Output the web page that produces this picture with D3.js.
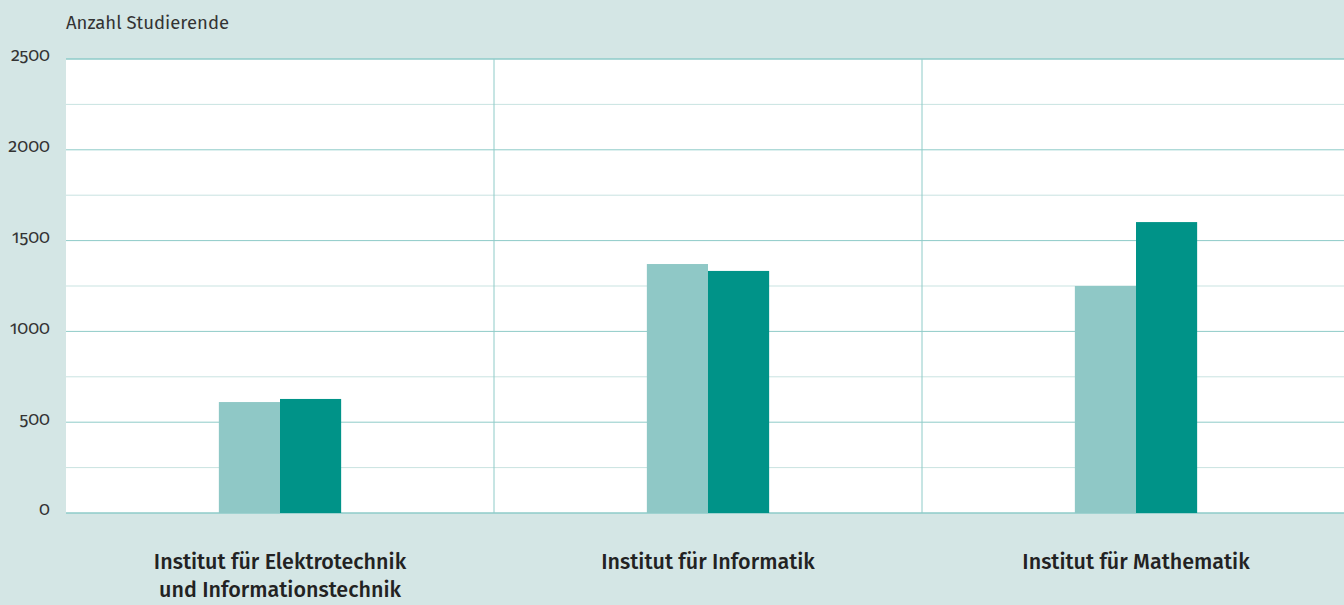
<!DOCTYPE html>
<html>
<head>
<meta charset="utf-8">
<script src="https://cdn.jsdelivr.net/npm/d3@7"></script>
<style>
  body { margin: 0; background: #d4e6e5; }
  svg { display: block; font-family: "Fira Sans", "Open Sans", "Noto Sans", sans-serif; }
  .tick-label { font-variant-numeric: oldstyle-nums; }
</style>
</head>
<body>
<script>
const width = 1344;
const height = 605;
const margin = {top: 59, right: -6, bottom: 92, left: 66};

// data
const institutes = [
  ["Institut für Elektrotechnik", "und Informationstechnik"],
  ["Institut für Informatik"],
  ["Institut für Mathematik"]
];
const seriesA = [611, 1371, 1250];   // light bars
const seriesB = [628, 1333, 1602];   // dark bars
const yTicks = [0, 500, 1000, 1500, 2000, 2500];
const yMinor = [250, 750, 1250, 1750, 2250];

const svg = d3.select("body").append("svg")
  .attr("width", width)
  .attr("height", height);

const x = d3.scaleBand()
  .domain(d3.range(institutes.length))
  .range([margin.left, width - margin.right])
  .paddingInner(0)
  .paddingOuter(0);

const xSub = d3.scaleBand()
  .domain([0, 1])
  .range([0, x.bandwidth()])
  .paddingInner(0)
  .paddingOuter(2.5);

const y = d3.scaleLinear()
  .domain([0, 2500])
  .range([height - margin.bottom, margin.top]);

// plot background
svg.append("rect")
  .attr("x", margin.left)
  .attr("y", y(2500))
  .attr("width", width - margin.left)
  .attr("height", y(0) - y(2500))
  .attr("fill", "#fff");

// minor grid
svg.append("g").selectAll("line")
  .data(yMinor)
  .join("line")
  .attr("x1", margin.left).attr("x2", width)
  .attr("y1", d => y(d)).attr("y2", d => y(d))
  .attr("stroke", "#c9e3e1")
  .attr("stroke-width", 1);

// major grid
svg.append("g").selectAll("line")
  .data(yTicks)
  .join("line")
  .attr("x1", margin.left).attr("x2", width)
  .attr("y1", d => y(d)).attr("y2", d => y(d))
  .attr("stroke", "#8ecbc8")
  .attr("stroke-width", d => d === 0 || d === 2500 ? 1.5 : 1);

// group dividers
svg.append("g").selectAll("line")
  .data(d3.range(1, institutes.length))
  .join("line")
  .attr("x1", d => x(d)).attr("x2", d => x(d))
  .attr("y1", y(2500)).attr("y2", y(0))
  .attr("stroke", "#8ecbc8")
  .attr("stroke-width", 1);

// bars
const groups = svg.append("g").selectAll("g")
  .data(institutes.map((d, i) => ({i, vals: [seriesA[i], seriesB[i]]})))
  .join("g")
  .attr("transform", d => `translate(${x(d.i)},0)`);

const colors = ["#8fc8c6", "#009388"];
groups.selectAll("rect")
  .data(d => d.vals)
  .join("rect")
  .attr("x", (d, j) => xSub(j))
  .attr("width", xSub.bandwidth())
  .attr("y", d => y(d))
  .attr("height", d => y(0) - y(d))
  .attr("fill", (d, j) => colors[j]);

// y tick labels
svg.append("g").selectAll("text")
  .data(yTicks)
  .join("text")
  .attr("class", "tick-label")
  .attr("x", 50)
  .attr("y", d => y(d) - 4)
  .attr("dy", "0.35em")
  .attr("text-anchor", "end")
  .attr("font-size", 18)
  .attr("fill", "#333")
  .text(d => d);

// axis title
svg.append("text")
  .attr("x", margin.left)
  .attr("y", 29)
  .attr("font-size", 18.5)
  .attr("fill", "#333")
  .text("Anzahl Studierende");

// category labels
const cat = svg.append("g").selectAll("text")
  .data(institutes)
  .join("text")
  .attr("x", (d, i) => x(i) + x.bandwidth() / 2)
  .attr("y", 569)
  .attr("text-anchor", "middle")
  .attr("font-size", 21.5)
  .attr("font-weight", 500)
  .attr("fill", "#222");

cat.selectAll("tspan")
  .data(d => d)
  .join("tspan")
  .attr("x", function () { return d3.select(this.parentNode).attr("x"); })
  .attr("dy", (d, i) => i === 0 ? 0 : 28)
  .text(d => d);
</script>
</body>
</html>
